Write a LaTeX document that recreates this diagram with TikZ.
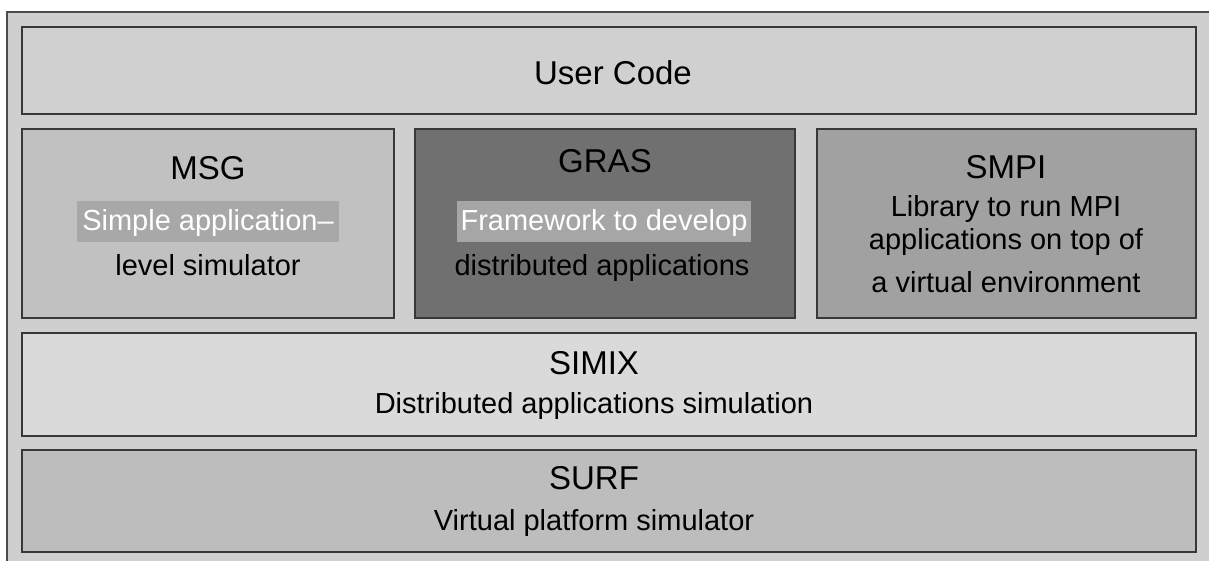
\documentclass[tikz,border=0pt]{standalone}
\usepackage{fontspec}
\setmainfont{Liberation Sans}
\begin{document}
\begin{tikzpicture}[x=1pt,y=-1pt,
  layer/.style={draw=black!78,line width=1.3pt},
  title/.style={anchor=base,inner sep=0pt,font=\fontsize{33}{36}\selectfont},
  body/.style={anchor=base,inner sep=0pt,font=\fontsize{29}{32}\selectfont},
  hilite/.style={fill=black!34}]
\definecolor{framebg}{gray}{0.81}
\definecolor{usercol}{gray}{0.815}
\definecolor{msgcol}{gray}{0.755}
\definecolor{grascol}{gray}{0.44}
\definecolor{smpicol}{gray}{0.63}
\definecolor{simixcol}{gray}{0.855}
\definecolor{surfcol}{gray}{0.74}
\useasboundingbox (0,0) rectangle (1209,561);
% outer frame, open to the right and bottom
\fill[framebg] (7,12) rectangle (1209,561);
\draw[draw=black!70,line width=1.2pt] (7,561) -- (7,12) -- (1209,12);
% layers
\draw[layer,fill=usercol]  (22,27)  rectangle (1196,114);
\draw[layer,fill=msgcol]   (22,129) rectangle (394,318);
\draw[layer,fill=grascol]  (415,129) rectangle (795,318);
\draw[layer,fill=smpicol]  (817,129) rectangle (1196,318);
\draw[layer,fill=simixcol] (22,333) rectangle (1196,436);
\draw[layer,fill=surfcol]  (22,450) rectangle (1196,552);
% highlighted first lines
\fill[hilite] (77,201) rectangle (339,242);
\fill[black!35] (457,201) rectangle (751,242);
% texts
\node[title] (user) at (613,85) {User Code};
\node[title] (msg) at (208,180) {MSG};
\node[body,text=white] (msg1) at (208,231) {Simple application–};
\node[body] (msg2) at (208,276) {level simulator};
\node[title] (gras) at (605,173) {GRAS};
\node[body,text=white] (gras1) at (604,231) {Framework to develop};
\node[body] (gras2) at (602,276) {distributed applications};
\node[title] (smpi) at (1006,179) {SMPI};
\node[body] (smpi1) at (1006,217) {Library to run MPI};
\node[body] (smpi2) at (1006,250) {applications on top of};
\node[body] (smpi3) at (1006,292) {a virtual environment};
\node[title] (simix) at (594,374) {SIMIX};
\node[body] (simix1) at (594,413) {Distributed applications simulation};
\node[title] (surf) at (594,489) {SURF};
\node[body] (surf1) at (594,530) {Virtual platform simulator};
\end{tikzpicture}
\end{document}
